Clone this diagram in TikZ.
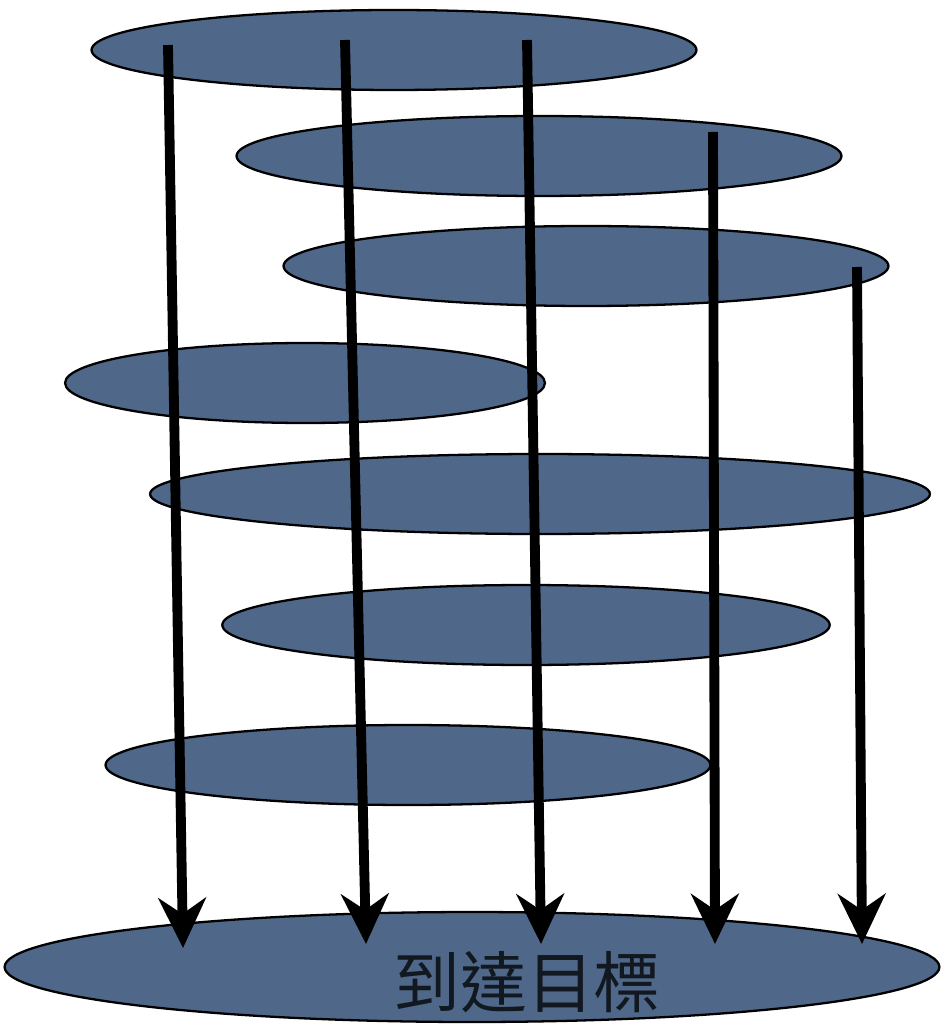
\documentclass[tikz,border=0pt]{standalone}
\usepackage{fontspec}
\newfontfamily\cjkfont{Noto Sans CJK TC}
\usetikzlibrary{arrows.meta,shapes.geometric}
\definecolor{discslate}{HTML}{4F6789}
\definecolor{disctext}{HTML}{111820}

\begin{document}
\begin{tikzpicture}[
    x=0.02cm, y=-0.02cm,
    disc/.style={ellipse, draw=black, line width=1.3pt, fill=discslate,
                 inner sep=0pt, minimum height=1.6cm},
    drop/.style={-{Stealth[length=1cm, width=0.95cm, inset=0.32cm]},
                 line width=5.6pt, color=black}
  ]
    \useasboundingbox (0,0) rectangle (944,1026);
    % stacked discs
    \node[disc, minimum width=12.1cm]  (d1) at (394,50)  {};
    \node[disc, minimum width=12.1cm]  (d2) at (539,156) {};
    \node[disc, minimum width=12.1cm]  (d3) at (586,266) {};
    \node[disc, minimum width=9.6cm]   (d4) at (305,383) {};
    \node[disc, minimum width=15.6cm]  (d5) at (540,494) {};
    \node[disc, minimum width=12.15cm] (d6) at (526,625) {};
    \node[disc, minimum width=12.1cm]  (d7) at (408,765) {};
    \node[disc, minimum width=18.7cm, minimum height=2.2cm] (goal) at (472,967) {};
    \node[font=\cjkfont\fontsize{38}{38}\selectfont, text=disctext]
         (goaltext) at (527,982) {到達目標};
    % arrow ends
    \coordinate (s1) at (168,45);   \coordinate (e1) at (183,948);
    \coordinate (s2) at (345,40);   \coordinate (e2) at (366,944);
    \coordinate (s3) at (527,40);   \coordinate (e3) at (541,944);
    \coordinate (s4) at (713,132);  \coordinate (e4) at (715,944);
    \coordinate (s5) at (857,267);  \coordinate (e5) at (862,944);
    \draw[drop] (s1) -- (e1);
    \draw[drop] (s2) -- (e2);
    \draw[drop] (s3) -- (e3);
    \draw[drop] (s4) -- (e4);
    \draw[drop] (s5) -- (e5);
\end{tikzpicture}
\end{document}
